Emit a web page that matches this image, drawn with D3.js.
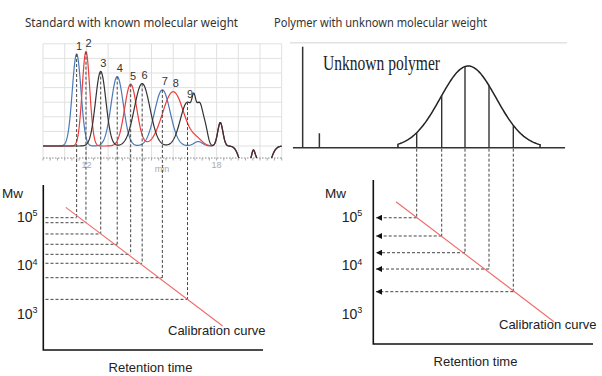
<!DOCTYPE html>
<html lang="en">
<head>
<meta charset="UTF-8">
<title>GPC calibration</title>
<style>
  body { margin: 0; background: #fff; }
  text { font-family: "Liberation Sans", Arial, sans-serif; fill: #222; }
</style>
</head>
<body>
<div id="chart"></div>
<script src="https://cdn.jsdelivr.net/npm/d3@7"></script>
<script>
// ---------------- data ----------------
// standards chromatogram: peaks (retention time in min, height, sigma in min)
const peakLabels  = ["1", "2", "3", "4", "5", "6", "7", "8", "9"];
const peakTimes   = [11.55, 11.98, 12.66, 13.42, 14.04, 14.57, 15.50, 16.00, 16.66];
const peakHeights = [63, 64.6, 51, 47.5, 42.3, 42.8, 38.4, 37.2, 30];
const peakWidths  = [0.20, 0.175, 0.24, 0.28, 0.28, 0.36, 0.36, 0.49, 0.33];
const peakTraces  = ["blue", "red", "black", "blue", "red", "black", "blue", "red", "black"];
// small bumps, system peak and baseline dips
const bumpTimes   = [16.95, 17.25, 17.52, 17.15, 17.10, 18.17, 19.30, 19.69, 20.20];
const bumpHeights = [11, 23, 6, 3, 3.5, 16, -18, 3.5, -20];
const bumpWidths  = [0.08, 0.17, 0.10, 0.20, 0.25, 0.12, 0.22, 0.06, 0.25];
const bumpTraces  = ["black", "black", "black", "blue", "red", "all", "all", "all", "all"];
// Mw of each standard (peak 8 has no projection)
const stdMw = [92300, 72700, 42600, 26100, 16200, 10600, 5350, null, 1910];

// unknown polymer
const polyPeak = [14.02, 80.9, 1.29];          // time, height, sigma
const polyRange = [10.78, 17.33];
const markerTimes = [6.39, 7.16];
const markerHeights = [100, 14.3];
const sliceTimes = [11.645, 12.797, 13.871, 14.977, 16.097];
const sliceMw = [92000, 38700, 17500, 8070, 2750];

// calibration lines
const leftCalTimes = [11.05, 18.28];
const leftCalMw = [151000, 540];
const rightCalTimes = [10.69, 17.97];
const rightCalMw = [197000, 662];

const mwTicks = [1e3, 1e4, 1e5];
const timeTicks = [12, 18];

const colors = { blue: "#4a79b8", red: "#ee3b3b", black: "#333333" };

// ---------------- scales ----------------
const W = 602, H = 376;
const svg = d3.select("#chart").append("svg")
  .attr("width", W).attr("height", H);

const xL = d3.scaleLinear().domain([10, 21]).range([43, 281.7]);
const xR = d3.scaleLinear().domain([10, 21]).range([381, 619.7]);
const yC = d3.scaleLinear().domain([0, 70]).range([146, 43.8]);
const yR = d3.scaleLinear().domain([0, 100]).range([147.7, 46.7]);
const yM = d3.scaleLog().domain([1e3, 1e5]).range([313, 216]);

const comps = [];
peakTimes.forEach((t, i) => comps.push({ t, h: peakHeights[i], w: peakWidths[i], trace: peakTraces[i] }));
bumpTimes.forEach((t, i) => comps.push({ t, h: bumpHeights[i], w: bumpWidths[i], trace: bumpTraces[i] }));

const gauss = (t, c, h, w) => h * Math.exp(-((t - c) ** 2) / (2 * w * w));
function signal(trace, t) {
  return d3.sum(comps.filter(c => c.trace === trace || c.trace === "all"), c => gauss(t, c.t, c.h, c.w));
}

// ---------------- titles ----------------
svg.append("text").attr("x", 25).attr("y", 26.5)
  .attr("textLength", 213).attr("lengthAdjust", "spacingAndGlyphs")
  .style("font-family", '"Noto Sans", sans-serif')
  .style("font-size", "12.2px").style("fill", "#333")
  .text("Standard with known molecular weight");
svg.append("text").attr("x", 274).attr("y", 26.5)
  .attr("textLength", 213).attr("lengthAdjust", "spacingAndGlyphs")
  .style("font-family", '"Noto Sans", sans-serif')
  .style("font-size", "12.2px").style("fill", "#333")
  .text("Polymer with unknown molecular weight");

// ---------------- left chromatogram ----------------
const chrom = svg.append("g");
chrom.selectAll(".vgrid").data(d3.range(10, 22)).join("line")
  .attr("x1", d => xL(d)).attr("x2", d => xL(d))
  .attr("y1", yC(70)).attr("y2", 158)
  .attr("stroke", "#e0e0e0");
chrom.selectAll(".hgrid").data(d3.range(0, 80, 10)).join("line")
  .attr("x1", xL(10)).attr("x2", xL(21))
  .attr("y1", d => yC(d)).attr("y2", d => yC(d))
  .attr("stroke", "#e0e0e0");

// dotted time axis
chrom.append("line")
  .attr("x1", xL(10)).attr("x2", xL(21)).attr("y1", 158).attr("y2", 158)
  .attr("stroke", "#888").attr("stroke-dasharray", "1.5,1.5");
chrom.selectAll(".mtick").data(d3.range(10, 21.01, 1 / 3)).join("line")
  .attr("x1", d => xL(d)).attr("x2", d => xL(d))
  .attr("y1", 158).attr("y2", 160.5)
  .attr("stroke", "#aaa");
chrom.selectAll(".tlab").data(timeTicks).join("text")
  .attr("x", d => xL(d)).attr("y", 167.5)
  .attr("text-anchor", "middle")
  .style("font-size", "9px").style("fill", "#aaa")
  .text(d => d);
chrom.append("text").attr("x", xL(15.48)).attr("y", 172)
  .attr("text-anchor", "middle")
  .style("font-size", "9px").style("fill", "#aaa")
  .text("min");

svg.append("clipPath").attr("id", "clipL")
  .append("rect").attr("x", 43).attr("y", 30).attr("width", 239).attr("height", 128);

const ts = d3.range(10, 21.001, 0.02);
const traceLine = trace => d3.line()
  .x(t => xL(t))
  .y(t => yC(signal(trace, t)))(ts);

["blue", "red", "black"].forEach(tr => {
  chrom.append("path")
    .attr("clip-path", "url(#clipL)")
    .attr("d", traceLine(tr))
    .attr("fill", "none")
    .attr("stroke", colors[tr])
    .attr("stroke-width", 1.2);
});

// peak numbers
chrom.selectAll(".plab").data(peakLabels).join("text")
  .attr("x", (d, i) => xL(peakTimes[i]) + 2.5)
  .attr("y", (d, i) => yC(signal(peakTraces[i], peakTimes[i])) - 4.5)
  .attr("text-anchor", "middle")
  .style("font-size", "11px").style("fill", "#333")
  .text(d => d);

// ---------------- left calibration ----------------
const dash = "3,2";
const stdIdx = stdMw.map((m, i) => i).filter(i => stdMw[i] !== null);

svg.selectAll(".lv").data(stdIdx).join("line")
  .attr("x1", i => xL(peakTimes[i])).attr("x2", i => xL(peakTimes[i]))
  .attr("y1", i => yC(signal(peakTraces[i], peakTimes[i])))
  .attr("y2", i => yM(stdMw[i]))
  .attr("stroke", "#444").attr("stroke-dasharray", dash);
svg.selectAll(".lh").data(stdIdx).join("line")
  .attr("x1", 45.5).attr("x2", i => xL(peakTimes[i]))
  .attr("y1", i => yM(stdMw[i])).attr("y2", i => yM(stdMw[i]))
  .attr("stroke", "#444").attr("stroke-dasharray", dash);

svg.append("line")
  .attr("x1", xL(leftCalTimes[0])).attr("y1", yM(leftCalMw[0]))
  .attr("x2", xL(leftCalTimes[1])).attr("y2", yM(leftCalMw[1]))
  .attr("stroke", "#f06a6a").attr("stroke-width", 1.1);

function mwAxis(x0, xEnd, yTop, yBot, labelX, mwX) {
  svg.append("path")
    .attr("d", `M${x0},${yTop}V${yBot}H${xEnd}`)
    .attr("fill", "none").attr("stroke", "#111").attr("stroke-width", 1.6);
  svg.append("text").attr("x", mwX).attr("y", 198)
    .style("font-size", "13.5px").text("Mw");
  const t = svg.selectAll(null).data(mwTicks).join("text")
    .attr("x", labelX).attr("y", d => yM(d) + 5.5)
    .style("font-size", "14px");
  t.append("tspan").text("10");
  t.append("tspan").attr("dy", -5.5).style("font-size", "9px")
    .text(d => Math.round(Math.log10(d)));
}
mwAxis(43.3, 263, 185, 350, 17, 2);
svg.append("text").attr("x", 168).attr("y", 334.5)
  .style("font-size", "13px").text("Calibration curve");
svg.append("text").attr("x", 150.5).attr("y", 371.5)
  .attr("text-anchor", "middle")
  .style("font-size", "13px").text("Retention time");

// ---------------- right chromatogram ----------------
svg.append("line").attr("x1", 290).attr("x2", 567).attr("y1", 42.7).attr("y2", 42.7)
  .attr("stroke", "#e2e2e2").attr("stroke-width", 1.5);
svg.append("line").attr("x1", xR(5.94)).attr("x2", xR(18.48))
  .attr("y1", yR(0)).attr("y2", yR(0))
  .attr("stroke", "#333").attr("stroke-width", 1.5);
svg.selectAll(".mk").data(markerTimes).join("line")
  .attr("x1", d => xR(d)).attr("x2", d => xR(d))
  .attr("y1", yR(0)).attr("y2", (d, i) => yR(markerHeights[i]))
  .attr("stroke", "#333").attr("stroke-width", 1.5);

const polyVal = t => gauss(t, polyPeak[0], polyPeak[1], polyPeak[2]);
const pts = [[polyRange[0], 0]]
  .concat(d3.range(polyRange[0], polyRange[1] + 0.001, 0.05).map(t => [t, polyVal(t)]))
  .concat([[polyRange[1], 0]]);
svg.append("path")
  .attr("d", d3.line().x(d => xR(d[0])).y(d => yR(d[1]))(pts))
  .attr("fill", "none").attr("stroke", "#222").attr("stroke-width", 1.5);

svg.selectAll(".sl").data(sliceTimes).join("line")
  .attr("x1", d => xR(d)).attr("x2", d => xR(d))
  .attr("y1", yR(0)).attr("y2", d => yR(polyVal(d)))
  .attr("stroke", "#333").attr("stroke-width", 1.4);

svg.append("text").attr("x", 323).attr("y", 70)
  .attr("textLength", 117).attr("lengthAdjust", "spacingAndGlyphs")
  .style("font-family", '"Liberation Serif", "Times New Roman", serif')
  .style("font-size", "21px").text("Unknown polymer");

// ---------------- right calibration ----------------
svg.append("defs").append("marker")
  .attr("id", "arrow").attr("viewBox", "0 -3 6 6")
  .attr("refX", 6).attr("refY", 0)
  .attr("markerWidth", 6).attr("markerHeight", 6)
  .attr("markerUnits", "userSpaceOnUse")
  .attr("orient", "auto")
  .append("path").attr("d", "M0,-3L6,0L0,3Z").attr("fill", "#111");

svg.selectAll(".rv").data(sliceTimes).join("line")
  .attr("x1", d => xR(d)).attr("x2", d => xR(d))
  .attr("y1", yR(0) + 1).attr("y2", (d, i) => yM(sliceMw[i]))
  .attr("stroke", "#444").attr("stroke-dasharray", dash);
svg.selectAll(".rh").data(sliceTimes).join("line")
  .attr("x1", d => xR(d)).attr("x2", 376)
  .attr("y1", (d, i) => yM(sliceMw[i])).attr("y2", (d, i) => yM(sliceMw[i]))
  .attr("stroke", "#444").attr("stroke-dasharray", dash)
  .attr("marker-end", "url(#arrow)");

svg.append("line")
  .attr("x1", xR(rightCalTimes[0])).attr("y1", yM(rightCalMw[0]))
  .attr("x2", xR(rightCalTimes[1])).attr("y2", yM(rightCalMw[1]))
  .attr("stroke", "#f06a6a").attr("stroke-width", 1.1);

mwAxis(373.3, 593, 180, 344, 341.7, 325);
svg.append("text").attr("x", 499).attr("y", 328.5)
  .style("font-size", "13px").text("Calibration curve");
svg.append("text").attr("x", 475.5).attr("y", 366)
  .attr("text-anchor", "middle")
  .style("font-size", "13px").text("Retention time");
</script>
</body>
</html>
